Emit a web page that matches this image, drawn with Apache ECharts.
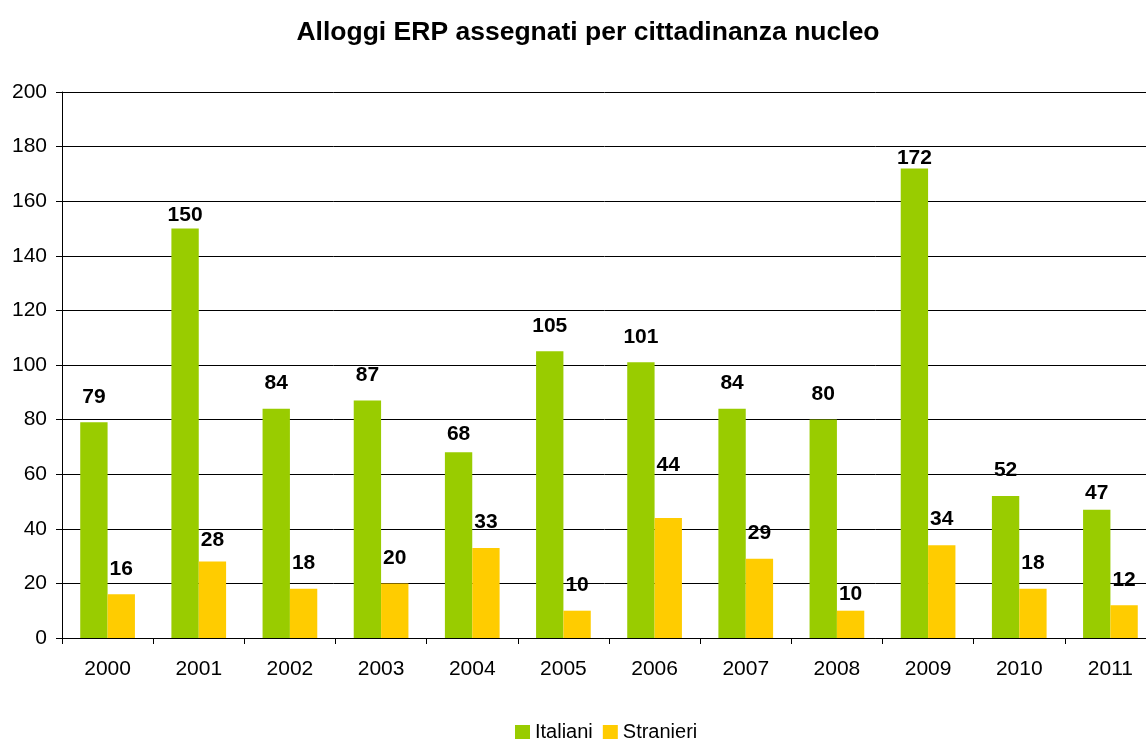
<!DOCTYPE html>
<html>
<head>
<meta charset="utf-8">
<script src="https://cdn.jsdelivr.net/npm/echarts@6/dist/echarts.min.js"></script>
<style>
  html, body { margin: 0; padding: 0; background: #fff; }
  #chart { width: 1146px; height: 740px; }
</style>
</head>
<body>
<div id="chart"></div>
<script>
const years = ['2000', '2001', '2002', '2003', '2004', '2005', '2006', '2007', '2008', '2009', '2010', '2011']
const italiani = [79, 150, 84, 87, 68, 105, 101, 84, 80, 172, 52, 47]
const stranieri = [16, 28, 18, 20, 33, 10, 44, 29, 10, 34, 18, 12]

const font = '"Liberation Sans", Arial, sans-serif'

// excel labels were nudged by hand on a few bars
const greenNudge = { 1: 12, 4: 7, 9: 15, 11: 9 }
const yellowNudge = { 1: 4, 6: -27, 8: 9 }

function withLabels(values, nudge) {
  return values.map((v, i) => ({
    value: v,
    label: { distance: 15 - (nudge[i] || 0) }
  }))
}

const chart = echarts.init(document.getElementById('chart'))
chart.setOption({
  animation: false,
  textStyle: { fontFamily: font },
  title: {
    text: 'Alloggi ERP assegnati per cittadinanza nucleo',
    left: 583,
    textAlign: 'center',
    top: 14,
    textStyle: { fontSize: 26.5, fontWeight: 'bold', color: '#000', fontFamily: font }
  },
  legend: {
    top: 722,
    left: 515,
    padding: 0,
    itemWidth: 15,
    itemHeight: 14,
    itemGap: 10,
    icon: 'rect',
    textStyle: { fontSize: 20, color: '#000', fontFamily: font },
    data: ['Italiani', 'Stranieri']
  },
  grid: { left: 62, width: 1094, top: 92, bottom: 102, containLabel: false, outerBoundsMode: 'none' },
  xAxis: {
    type: 'category',
    data: years,
    axisLine: { lineStyle: { color: '#000', width: 1 } },
    axisTick: { show: true, length: 6, lineStyle: { color: '#000' } },
    axisLabel: { fontSize: 21, color: '#000', margin: 21, fontFamily: font }
  },
  yAxis: {
    type: 'value',
    min: 0,
    max: 200,
    interval: 20,
    axisLine: { show: true, lineStyle: { color: '#000', width: 1 } },
    axisTick: { show: true, length: 6, lineStyle: { color: '#000' } },
    axisLabel: { fontSize: 21, color: '#000', margin: 15, fontFamily: font },
    splitLine: { lineStyle: { color: '#000', width: 1 } }
  },
  series: [
    {
      name: 'Italiani',
      type: 'bar',
      data: withLabels(italiani, greenNudge),
      itemStyle: { color: '#99CC00' },
      barGap: '0%',
      barCategoryGap: '40%',
      label: { show: true, position: 'top', fontSize: 21, fontWeight: 'bold', color: '#000', fontFamily: font }
    },
    {
      name: 'Stranieri',
      type: 'bar',
      data: withLabels(stranieri, yellowNudge),
      itemStyle: { color: '#FFCC00' },
      label: { show: true, position: 'top', fontSize: 21, fontWeight: 'bold', color: '#000', fontFamily: font }
    }
  ]
})
</script>
</body>
</html>
